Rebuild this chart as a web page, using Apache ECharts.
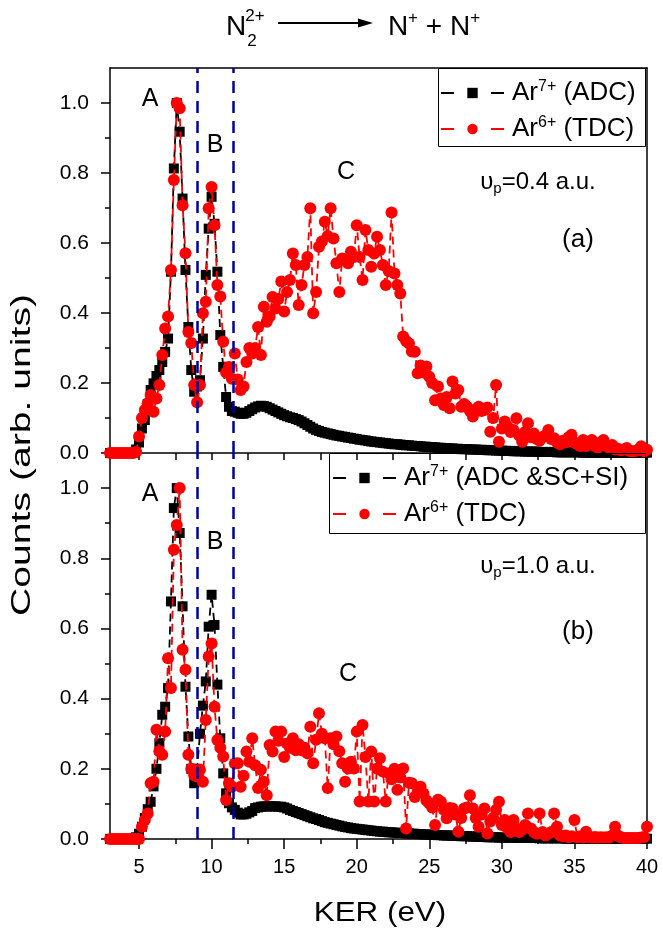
<!DOCTYPE html>
<html><head><meta charset="utf-8">
<script src="https://cdn.jsdelivr.net/npm/echarts@6/dist/echarts.min.js"></script>
<style>html,body{margin:0;padding:0;background:#fff}#c{width:663px;height:939px}</style>
</head><body><div id="c"></div>
<script>
// KER grid (eV)
const kerValues = [
3,3.2,3.4,3.6,3.8, 4,4.2,4.4,4.6,4.8, 5,5.2,5.4,5.6,5.8, 6,6.2,6.4,6.6,6.8,
7,7.2,7.4,7.6,7.8, 8,8.2,8.4,8.6,8.8, 9,9.2,9.4,9.6,9.8, 10,10.2,10.4,10.6,10.8,
11,11.2,11.4,11.6,11.8, 12,12.2,12.4,12.6,12.8, 13,13.2,13.4,13.6,13.8, 14,14.2,14.4,14.6,14.8,
15,15.2,15.4,15.6,15.8, 16,16.2,16.4,16.6,16.8, 17,17.2,17.4,17.6,17.8, 18,18.2,18.4,18.6,18.8,
19,19.2,19.4,19.6,19.8, 20,20.2,20.4,20.6,20.8, 21,21.2,21.4,21.6,21.8, 22,22.2,22.4,22.6,22.8,
23,23.2,23.4,23.6,23.8, 24,24.2,24.4,24.6,24.8, 25,25.2,25.4,25.6,25.8, 26,26.2,26.4,26.6,26.8,
27,27.2,27.4,27.6,27.8, 28,28.2,28.4,28.6,28.8, 29,29.2,29.4,29.6,29.8, 30,30.2,30.4,30.6,30.8,
31,31.2,31.4,31.6,31.8, 32,32.2,32.4,32.6,32.8, 33,33.2,33.4,33.6,33.8, 34,34.2,34.4,34.6,34.8,
35,35.2,35.4,35.6,35.8, 36,36.2,36.4,36.6,36.8, 37,37.2,37.4,37.6,37.8, 38,38.2,38.4,38.6,38.8,
39,39.2,39.4,39.6,39.8, 40];

// (a) v_p = 0.4 a.u.
const topADC = [
0,0,0,0,0, 0,0,0,0,0.01, 0.03,0.07,0.094,0.14,0.18, 0.199,0.22,0.237,0.26,0.289,
0.327,0.518,0.813,1.0,0.918, 0.727,0.523,0.36,0.237,0.175, 0.19,0.208,0.327,0.509,0.641, 0.732,0.655,0.518,0.337,0.246,
0.16,0.132,0.12,0.118,0.115, 0.112,0.112,0.115,0.12,0.125, 0.13,0.133,0.135,0.134,0.132, 0.128,0.124,0.12,0.116,0.112,
0.108,0.105,0.102,0.1,0.097, 0.094,0.09,0.085,0.08,0.075, 0.07,0.066,0.063,0.06,0.058, 0.056,0.054,0.052,0.05,0.049,
0.047,0.046,0.044,0.043,0.041, 0.04,0.038,0.037,0.036,0.034, 0.033,0.032,0.031,0.03,0.029, 0.028,0.027,0.026,0.025,0.025,
0.024,0.023,0.022,0.022,0.021, 0.02,0.02,0.019,0.018,0.018, 0.017,0.017,0.016,0.015,0.015, 0.014,0.014,0.013,0.013,0.012,
0.012,0.011,0.011,0.011,0.01, 0.01,0.01,0.009,0.009,0.009, 0.008,0.008,0.008,0.007,0.007, 0.007,0.006,0.006,0.006,0.005,
0.005,0.005,0.005,0.004,0.004, 0.004,0.004,0.004,0.003,0.003, 0.003,0.003,0.003,0.003,0.002, 0.002,0.002,0.002,0.002,0.002,
0.002,0.002,0.002,0.001,0.001, 0.001,0.001,0.001,0.001,0.001, 0.001,0.001,0.001,0.001,0.001, 0.001,0.001,0.001,0.001,0.001,
0.001,0.001,0.001,0.001,0.001, 0.001];
const topTDC = [
0,0,0,0,0, 0,0,0,0,0.003, 0.047,0.10,0.123,0.142,0.166, 0.118,0.156,0.194,0.28,0.356,
0.39,0.523,0.78,1.0,0.985, 0.708,0.571,0.346,0.314,0.194, 0.145,0.194,0.399,0.432,0.699, 0.76,0.651,0.48,0.447,0.318,
0.23,0.246,0.212,0.284,0.21, 0.18,0.19,0.26,0.30,0.284, 0.30,0.36,0.28,0.418,0.375, 0.39,0.446,0.413,0.44,0.49,
0.404,0.46,0.494,0.57,0.537, 0.423,0.48,0.537,0.56,0.699, 0.399,0.46,0.589,0.604,0.661, 0.62,0.699,0.613,0.542,0.46,
0.556,0.55,0.542,0.575,0.56, 0.651,0.56,0.494,0.637,0.58, 0.532,0.57,0.618,0.58,0.537, 0.48,0.52,0.687,0.513,0.48,
0.456,0.333,0.32,0.313,0.29, 0.289,0.228,0.25,0.23,0.247, 0.218,0.2,0.151,0.19,0.156, 0.137,0.16,0.128,0.204,0.17,
0.18,0.132,0.14,0.132,0.12, 0.104,0.125,0.132,0.12,0.123, 0.13,0.061,0.1,0.194,0.032, 0.07,0.09,0.075,0.06,0.066,
0.099,0.05,0.032,0.06,0.085, 0.045,0.056,0.04,0.035,0.045, 0.05,0.066,0.04,0.042,0.03, 0.025,0.035,0.03,0.045,0.052,
0.03,0.025,0.02,0.037,0.02, 0.025,0.037,0.02,0.015,0.03, 0.037,0.02,0.015,0.023,0.01, 0.012,0.008,0.01,0.014,0.006,
0.005,0.006,0.01,0.019,0.005, 0.009];

// (b) v_p = 1.0 a.u.
const botADC = [
0,0,0,0,0, 0,0,0,0,0.005, 0.015,0.035,0.06,0.085,0.106, 0.15,0.2,0.273,0.354,0.377,
0.43,0.677,0.943,1.0,0.872, 0.663,0.434,0.292,0.2,0.159, 0.2,0.30,0.38,0.449,0.605, 0.696,0.61,0.44,0.287,0.187,
0.13,0.102,0.09,0.083,0.075, 0.07,0.07,0.072,0.076,0.08, 0.088,0.09,0.092,0.093,0.093, 0.093,0.093,0.093,0.092,0.092,
0.09,0.087,0.083,0.08,0.077, 0.074,0.071,0.068,0.065,0.062, 0.059,0.057,0.054,0.051,0.048, 0.046,0.044,0.042,0.04,0.038,
0.036,0.034,0.033,0.031,0.03, 0.029,0.028,0.027,0.026,0.025, 0.024,0.023,0.022,0.021,0.021, 0.02,0.019,0.019,0.018,0.018,
0.017,0.017,0.016,0.016,0.015, 0.015,0.014,0.014,0.013,0.013, 0.012,0.012,0.012,0.011,0.011, 0.01,0.01,0.01,0.009,0.009,
0.009,0.008,0.008,0.008,0.007, 0.007,0.007,0.006,0.006,0.006, 0.005,0.005,0.005,0.005,0.004, 0.004,0.004,0.004,0.004,0.004,
0.003,0.003,0.003,0.003,0.003, 0.003,0.003,0.003,0.002,0.002, 0.002,0.002,0.002,0.002,0.002, 0.002,0.002,0.001,0.001,0.001,
0.001,0.001,0.001,0.001,0.001, 0.001,0.001,0.001,0.001,0.001, 0.001,0.001,0.001,0.001,0.001, 0.001,0.001,0.001,0.001,0.001,
0.001,0.001,0.001,0.001,0.001, 0.001];
const botTDC = [
0,0,0,0,0, 0,0,0,0,0, 0,0.035,0.054,0.073,0.159, 0.163,0.311,0.25,0.24,0.306,
0.515,0.43,0.824,0.895,1.0, 0.539,0.482,0.24,0.2,0.182, 0.178,0.197,0.163,0.339,0.52, 0.557,0.377,0.282,0.26,0.235,
0.111,0.159,0.149,0.215,0.216, 0.149,0.18,0.249,0.22,0.287, 0.21,0.145,0.197,0.163,0.125, 0.268,0.249,0.306,0.28,0.306,
0.234,0.272,0.26,0.287,0.253, 0.27,0.253,0.26,0.244,0.32, 0.216,0.283,0.358,0.3,0.287, 0.145,0.287,0.27,0.292,0.25,
0.216,0.163,0.201,0.22,0.201, 0.306,0.107,0.325,0.234,0.107, 0.249,0.107,0.201,0.23,0.192, 0.107,0.187,0.17,0.2,0.14,
0.175,0.201,0.03,0.16,0.159, 0.12,0.135,0.149,0.13,0.11, 0.102,0.09,0.04,0.112,0.106, 0.083,0.059,0.088,0.087,0.07,
0.021,0.06,0.087,0.09,0.125, 0.087,0.06,0.035,0.07,0.087, 0.016,0.05,0.06,0.083,0.106, 0.04,0.054,0.03,0.02,0.054,
0.03,0.02,0.026,0.04,0.073, 0.03,0.02,0.015,0.073,0.02, 0.01,0.015,0.02,0.073,0.035, 0.01,0.008,0.01,0.005,0.008,
0.054,0.005,0.008,0.004,0.021, 0.005,0.004,0.006,0.004,0.005, 0.004,0.005,0.004,0.01,0.035, 0.01,0.004,0.003,0.003,0.003,
0.003,0.003,0.003,0.004,0.006, 0.035];

const xMajorTicks = [5,10,15,20,25,30,35,40];
const xMinorTicks = [7.5,12.5,17.5,22.5,27.5,32.5,37.5];
const yMajorTicks = [0,0.2,0.4,0.6,0.8,1.0];
const yMinorTicks = [0.1,0.3,0.5,0.7,0.9];
const refLines = [9, 11.5];
const legendLabels = {
  topADC: '{t|Ar}{sup|7+}{t| (ADC)}',
  topTDC: '{t|Ar}{sup|6+}{t| (TDC)}',
  botADC: '{t|Ar}{sup|7+}{t| (ADC &SC+SI)}',
  botTDC: '{t|Ar}{sup|6+}{t| (TDC)}'
};

const FF = '"Liberation Sans", Arial, sans-serif';
const AX = {color:'#000', width:1.5};
const pairs = arr => kerValues.map((x,i)=>[x, arr[i]]);

function xAx(g, ticks, len, labels, pos){
  return {gridIndex:g, type:'value', min:3, max:40, position:pos||'bottom',
    axisLine:{show:!!pos || labels!==null, onZero:false, lineStyle:AX},
    axisTick:{show:ticks.length>0, inside:false, length:len, lineStyle:AX, customValues:ticks},
    axisLabel:{show:!!labels, customValues:ticks, margin:18, fontSize:20, fontFamily:FF, color:'#000'},
    splitLine:{show:false}};
}
function yAx(g, ticks, len, labels, pos){
  return {gridIndex:g, type:'value', min:0, max:1.1, position:pos||'left',
    axisLine:{show:!!pos || labels!==null, onZero:false, lineStyle:AX},
    axisTick:{show:ticks.length>0, inside:false, length:len, lineStyle:AX, customValues:ticks},
    axisLabel:{show:!!labels, customValues:ticks, margin:21, fontSize:21, fontFamily:FF, color:'#000',
      formatter:v=>v.toFixed(1)},
    splitLine:{show:false}};
}

const markLine = {silent:true, symbol:['none','none'], label:{show:false},
  lineStyle:{color:'#00009c', width:2.5, type:[12,8]},
  data: refLines.map(v=>({xAxis:v}))};

function lineSeries(name, arr, xi, yi, black, ml){
  const s = {name, type:'line', xAxisIndex:xi, yAxisIndex:yi, data:pairs(arr),
    symbol: black ? 'rect' : 'circle', symbolSize: black ? 10 : 12, showAllSymbol:true,
    itemStyle:{color: black ? '#000' : '#ff0000'},
    lineStyle:{color: black ? '#000' : '#ff0000', width:1.8, type:[8,5]},
    z: black ? 2 : 3, animation:false};
  if (ml) s.markLine = markLine;
  return s;
}

function legendCfg(names, left, top){
  return {data:names, orient:'vertical', left, top, padding:0, itemGap:9,
    itemWidth:63, itemHeight:13, selectedMode:false,
    formatter:n=>legendLabels[n],
    lineStyle:{type:[13,37], width:2},
    textStyle:{padding:[0,0,0,3], rich:{
      t:{fontSize:26, fontFamily:FF, color:'#000', lineHeight:28, verticalAlign:'middle'},
      sup:{fontSize:16, fontFamily:FF, color:'#000', lineHeight:16, verticalAlign:'top'}}}};
}

function txt(x, y, text, size, rich, extra){
  return Object.assign({type:'text', x, y, z:50, style:{text, fill:'#000', font:size+'px '+FF,
    align:'center', verticalAlign:'middle', textAlign:'center', textVerticalAlign:'middle', rich}}, extra||{});
}
const vRich = {
  t:{fontSize:24, fontFamily:FF, color:'#000', lineHeight:28, verticalAlign:'middle'},
  sub:{fontSize:15, fontFamily:FF, color:'#000', lineHeight:12, verticalAlign:'bottom'}
};
const tRich = {
  t:{fontSize:28, fontFamily:FF, color:'#000', lineHeight:34, verticalAlign:'middle'},
  sup:{fontSize:17, fontFamily:FF, color:'#000', lineHeight:17, verticalAlign:'top'}
};

const option = {
  animation:false,
  backgroundColor:'#fff',
  grid:[{left:110, width:537, top:68, height:385}, {left:110, width:537, top:453, height:386}],
  xAxis:[
    xAx(0, xMajorTicks, 7, false),
    xAx(0, xMinorTicks, 7, null),
    xAx(0, [], 0, false, 'top'),
    xAx(1, xMajorTicks, 10, true),
    xAx(1, xMinorTicks, 5, null)
  ],
  yAxis:[
    yAx(0, yMajorTicks, 9, true),
    yAx(0, yMinorTicks, 5, null),
    yAx(0, [], 0, false, 'right'),
    yAx(1, yMajorTicks, 9, true),
    yAx(1, yMinorTicks, 5, null),
    yAx(1, [], 0, false, 'right')
  ],
  legend:[legendCfg(['topADC','topTDC'], 440, 79), legendCfg(['botADC','botTDC'], 332, 464)],
  series:[
    lineSeries('topADC', topADC, 0, 0, true, true),
    lineSeries('topTDC', topTDC, 0, 0, false, false),
    lineSeries('botADC', botADC, 3, 3, true, true),
    lineSeries('botTDC', botTDC, 3, 3, false, false)
  ],
  graphic:[
    // legend frames
    {type:'rect', z:40, shape:{x:438.5, y:68.5, width:207, height:78}, style:{fill:'none', stroke:'#000', lineWidth:1}},
    {type:'rect', z:40, shape:{x:329.5, y:453.5, width:316, height:80}, style:{fill:'none', stroke:'#000', lineWidth:1}},
    // title N2^2+ -> N+ + N+
    txt(236, 27, 'N', 28),
    txt(255, 16, '2+', 17),
    txt(252, 41, '2', 17),
    {type:'line', z:50, shape:{x1:278, y1:23, x2:362, y2:23}, style:{stroke:'#000', lineWidth:2}},
    {type:'polygon', z:50, shape:{points:[[358,18.5],[373,23],[358,27.5]]}, style:{fill:'#000'}},
    txt(434, 27, '{t|N}{sup|+}{t| + N}{sup|+}', 28, tRich),
    // panel (a)
    txt(150, 99, 'A', 25),
    txt(215, 145, 'B', 25),
    txt(346, 172, 'C', 25),
    txt(538, 182, '{t|υ}{sub|p}{t|=0.4 a.u.}', 24, vRich),
    txt(578, 240, '(a)', 26),
    // panel (b)
    txt(150, 494, 'A', 25),
    txt(215, 542, 'B', 25),
    txt(348, 674, 'C', 25),
    txt(538, 566, '{t|υ}{sub|p}{t|=1.0 a.u.}', 24, vRich),
    txt(578, 632, '(b)', 26),
    // axis titles
    txt(380, 913, 'KER (eV)', 28, undefined, {scaleX:1.12}),
    txt(23, 455, 'Counts (arb. units)', 27, undefined, {rotation:Math.PI/2, scaleX:1.45})
  ]
};
const chart = echarts.init(document.getElementById('c'), null, {renderer:'canvas'});
chart.setOption(option);
</script></body></html>
